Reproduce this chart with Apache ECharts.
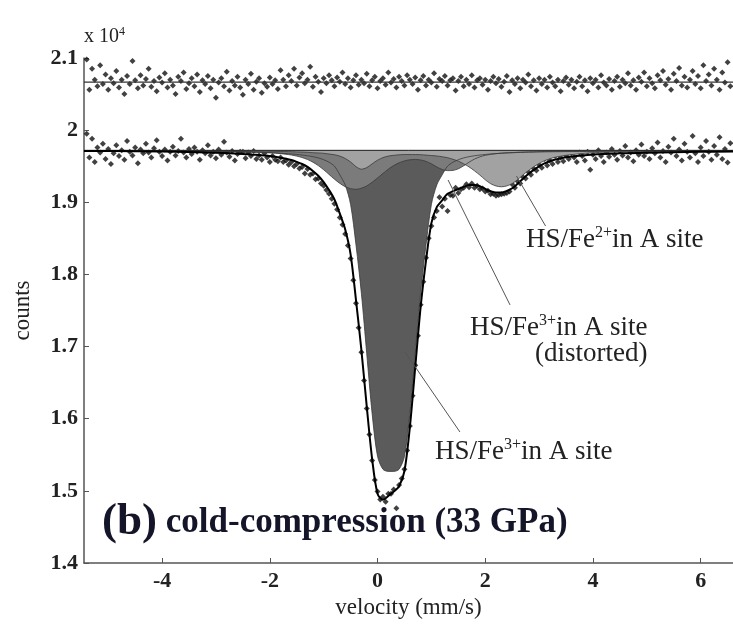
<!DOCTYPE html>
<html>
<head>
<meta charset="utf-8">
<script src="https://cdn.jsdelivr.net/npm/echarts@6/dist/echarts.min.js"></script>
<style>
html, body { margin: 0; padding: 0; background: #fff; }
#chart { width: 733px; height: 632px; }
</style>
</head>
<body>
<div id="chart"></div>
<script>
// measured channels (mm/s)
var velocity = [
  -5.40,-5.35,-5.30,-5.25,-5.20,-5.15,-5.10,-5.05,-5.00,-4.95,
  -4.90,-4.85,-4.80,-4.75,-4.70,-4.65,-4.60,-4.55,-4.50,-4.45,
  -4.40,-4.35,-4.30,-4.25,-4.20,-4.15,-4.10,-4.05,-4.00,-3.95,
  -3.90,-3.85,-3.80,-3.75,-3.70,-3.65,-3.60,-3.55,-3.50,-3.45,
  -3.40,-3.35,-3.30,-3.25,-3.20,-3.15,-3.10,-3.05,-3.00,-2.95,
  -2.90,-2.85,-2.80,-2.75,-2.70,-2.65,-2.60,-2.55,-2.50,-2.45,
  -2.40,-2.35,-2.30,-2.25,-2.20,-2.15,-2.10,-2.05,-2.00,-1.95,
  -1.90,-1.85,-1.80,-1.75,-1.70,-1.65,-1.60,-1.55,-1.50,-1.45,
  -1.40,-1.35,-1.30,-1.25,-1.20,-1.15,-1.10,-1.05,-1.00,-0.95,
  -0.90,-0.85,-0.80,-0.75,-0.70,-0.65,-0.60,-0.55,-0.50,-0.45,
  -0.40,-0.35,-0.30,-0.25,-0.20,-0.15,-0.10,-0.05,0.00,0.05,
  0.10,0.15,0.20,0.25,0.30,0.35,0.40,0.45,0.50,0.55,
  0.60,0.65,0.70,0.75,0.80,0.85,0.90,0.95,1.00,1.05,
  1.10,1.15,1.20,1.25,1.30,1.35,1.40,1.45,1.50,1.55,
  1.60,1.65,1.70,1.75,1.80,1.85,1.90,1.95,2.00,2.05,
  2.10,2.15,2.20,2.25,2.30,2.35,2.40,2.45,2.50,2.55,
  2.60,2.65,2.70,2.75,2.80,2.85,2.90,2.95,3.00,3.05,
  3.10,3.15,3.20,3.25,3.30,3.35,3.40,3.45,3.50,3.55,
  3.60,3.65,3.70,3.75,3.80,3.85,3.90,3.95,4.00,4.05,
  4.10,4.15,4.20,4.25,4.30,4.35,4.40,4.45,4.50,4.55,
  4.60,4.65,4.70,4.75,4.80,4.85,4.90,4.95,5.00,5.05,
  5.10,5.15,5.20,5.25,5.30,5.35,5.40,5.45,5.50,5.55,
  5.60,5.65,5.70,5.75,5.80,5.85,5.90,5.95,6.00,6.05,
  6.10,6.15,6.20,6.25,6.30,6.35,6.40,6.45,6.50,6.55
];

// upper spectrum (counts)
var countsTop = [
  20980,20560,20850,20700,20610,20900,20640,20770,20560,20720,
  20650,20820,20590,20700,20500,20750,20640,20960,20690,20580,
  20760,20620,20710,20850,20600,20680,20540,20730,20660,20790,
  20590,20700,20620,20500,20740,20680,20800,20570,20650,20720,
  20610,20770,20530,20690,20640,20750,20580,20700,20450,20660,
  20720,20610,20810,20550,20680,20620,20740,20590,20490,20700,
  20640,20780,20560,20670,20720,20520,20650,20600,20730,20640,
  20690,20570,20830,20700,20610,20760,20680,20850,20620,20730,
  20790,20650,20700,20880,20600,20740,20670,20530,20720,20650,
  20760,20690,20610,20730,20670,20800,20640,20720,20590,20690,
  20760,20630,20700,20650,20780,20610,20690,20740,20580,20680,
  20720,20630,20800,20660,20710,20590,20740,20680,20620,20760,
  20700,20640,20730,20560,20690,20750,20620,20700,20660,20790,
  20600,20710,20680,20750,20620,20690,20720,20550,20680,20740,
  20610,20700,20640,20760,20590,20690,20720,20630,20700,20560,
  20680,20740,20650,20710,20600,20670,20750,20530,20690,20640,
  20720,20580,20700,20660,20770,20610,20690,20550,20720,20640,
  20700,20590,20740,20660,20610,20700,20540,20680,20730,20630,
  20700,20580,20670,20740,20610,20690,20540,20720,20650,20700,
  20590,20760,20660,20620,20710,20560,20680,20740,20600,20700,
  20650,20790,20620,20690,20560,20730,20670,20800,20610,20720,
  20650,20580,20760,20690,20820,20630,20710,20560,20780,20680,
  20860,20620,20740,20590,20700,20820,20640,20750,20580,20900,
  20680,20770,20620,20850,20700,20560,20800,20660,20940,20610
];

// lower spectrum (counts)
var countsBottom = [
  19950,19620,19880,19560,19760,19690,19810,19600,19740,19530,
  19680,19790,19640,19720,19590,19850,19700,19650,19760,19540,
  19730,19680,19810,19690,19620,19750,19860,19700,19640,19730,
  19580,19700,19770,19650,19710,19880,19690,19620,19740,19670,
  19760,19700,19590,19720,19680,19790,19650,19700,19610,19730,
  19660,19840,19690,19630,19710,19580,19670,19700,19700,19610,
  19690,19640,19710,19600,19650,19590,19680,19620,19560,19640,
  19590,19570,19620,19560,19580,19520,19560,19500,19530,19470,
  19490,19400,19460,19380,19400,19320,19330,19260,19230,19170,
  19120,19050,18980,18900,18790,18690,18560,18400,18220,17920,
  17600,17260,16920,16530,16140,15780,15420,15150,14990,14880,
  14920,14850,14960,14960,15020,14760,15080,15170,15300,15560,
  15900,16320,16740,17150,17580,17900,18230,18500,18670,18790,
  18880,19070,18940,19050,18880,19100,19090,19200,19130,19180,
  19200,19250,19210,19260,19200,19230,19180,19190,19150,19160,
  19110,19120,19090,19100,19110,19120,19130,19150,19250,19200,
  19290,19260,19350,19330,19420,19380,19470,19440,19520,19480,
  19600,19510,19580,19530,19640,19560,19620,19570,19650,19600,
  19680,19620,19560,19690,19640,19580,19700,19450,19660,19600,
  19720,19640,19560,19690,19630,19740,19660,19590,19710,19650,
  19780,19620,19690,19570,19720,19660,19800,19640,19700,19600,
  19750,19680,19830,19620,19710,19560,19770,19690,19880,19640,
  19730,19580,19810,19700,19620,19920,19680,19560,19760,19640,
  19850,19700,19590,19780,19660,19900,19600,19740,19550,19820
];

// fitted curves for the lower spectrum
var fitVelocity = [
  -5.45,-4.5,-3.5,-3.0,
  -2.5,-2.4,-2.3,-2.2,-2.1,-2.0,-1.9,-1.8,-1.7,-1.6,
  -1.5,-1.4,-1.3,-1.2,-1.1,-1.0,-0.9,-0.8,-0.7,-0.6,
  -0.5,-0.4,-0.3,-0.2,-0.1,0.0,0.1,0.2,0.3,0.4,
  0.5,0.6,0.7,0.8,0.9,1.0,1.1,1.2,1.3,1.4,
  1.5,1.6,1.7,1.8,1.9,2.0,2.1,2.2,2.3,2.4,
  2.5,2.6,2.7,2.8,2.9,3.0,3.1,3.2,3.3,3.4,
  3.5,
  4.0,4.5,5.0,6.0,6.6
];
var fitTotal = [
  19712,19708,19698,19686,
  19671,19667,19660,19656,19649,19641,19632,19618,19604,19586,
  19561,19531,19491,19435,19368,19280,19170,19040,18842,18623,
  18278,17644,16954,16168,15441,14960,14878,14929,14990,15065,
  15276,15881,16715,17547,18191,18711,18932,19026,19117,19153,
  19184,19214,19238,19240,19222,19186,19152,19135,19135,19157,
  19195,19257,19327,19392,19449,19498,19539,19568,19592,19608,
  19623,
  19662,19679,19688,19699,19704
];
var fitMain = [
  19712,19710,19706,19702,
  19698,19696,19694,19692,19690,19687,19684,19680,19675,19670,
  19663,19655,19645,19632,19615,19590,19555,19500,19380,19240,
  18970,18410,17740,16900,16070,15480,15300,15270,15270,15300,
  15480,16070,16900,17740,18410,18970,19240,19380,19500,19555,
  19590,19615,19632,19645,19655,19663,19670,19675,19680,19684,
  19687,19690,19692,19694,19696,19698,19699,19700,19701,19702,
  19703,
  19705,19708,19711,19713,19714
];
var fitDistorted = [
  19715,19713,19710,19707,
  19702,19701,19697,19695,19691,19687,19682,19674,19666,19655,
  19640,19620,19593,19556,19509,19451,19386,19321,19262,19216,
  19189,19180,19195,19227,19278,19337,19399,19459,19509,19547,
  19574,19589,19594,19587,19567,19533,19490,19455,19439,19442,
  19464,19506,19556,19599,19630,19651,19664,19674,19680,19686,
  19689,19693,19696,19699,19700,19702,19704,19705,19706,19707,
  19708,
  19710,19712,19714,19716,19717
];
var fitFe2 = [
  19716,19715,19714,19713,
  19711,19710,19709,19709,19708,19707,19706,19704,19703,19701,
  19698,19696,19693,19687,19684,19679,19669,19659,19640,19607,
  19559,19494,19459,19481,19533,19583,19619,19640,19651,19658,
  19662,19662,19661,19660,19654,19648,19642,19631,19618,19596,
  19570,19533,19490,19436,19377,19312,19258,19226,19215,19227,
  19259,19314,19379,19439,19493,19538,19576,19603,19625,19639,
  19652,
  19687,19697,19704,19710,19713
];

var baseBottom = 19720;
var baseTop = 20665;
var xMin = -5.45, xMax = 6.6;
var xTicks = [-4, -2, 0, 2, 4, 6];

function pairs(xs, ys) {
  return xs.map(function (x, i) { return [x, ys[i]]; });
}

var serif = '"Liberation Serif", "DejaVu Serif", serif';
var chart = echarts.init(document.getElementById('chart'));

function areaSeries(name, ys, color) {
  return {
    name: name,
    type: 'line',
    data: pairs(fitVelocity, ys),
    smooth: 0.3,
    symbol: 'none',
    lineStyle: { color: '#3a3a3a', width: 0.8 },
    areaStyle: { color: color, opacity: 1, origin: baseBottom }
  };
}

// superscript text helper for labels
function supText(left, top, base, sup, rest, size) {
  return {
    type: 'text', left: left, top: top,
    style: {
      text: base + '{s|' + sup + '}' + rest, fontFamily: serif, fontSize: size, fill: '#222',
      rich: { s: { fontFamily: serif, fontSize: Math.round(size * 0.6), padding: [0, 0, Math.round(size * 0.5), 0] } }
    }
  };
}

var option = {
  animation: false,
  backgroundColor: '#fff',
  grid: { left: 84, right: 0, top: 58, bottom: 69 },
  xAxis: {
    type: 'value',
    min: xMin,
    max: xMax,
    name: 'velocity (mm/s)',
    nameLocation: 'middle',
    nameGap: 30,
    nameTextStyle: { fontFamily: serif, fontSize: 23, color: '#222' },
    axisLine: { onZero: false, lineStyle: { color: '#555', width: 1.5 } },
    axisTick: { inside: true, length: 5, customValues: xTicks, lineStyle: { color: '#555' } },
    axisLabel: { customValues: xTicks, fontFamily: serif, fontSize: 22, fontWeight: 'bold', color: '#222', margin: 7 },
    splitLine: { show: false }
  },
  yAxis: {
    type: 'value',
    min: 14000,
    max: 21000,
    interval: 1000,
    name: 'counts',
    nameLocation: 'middle',
    nameGap: 50,
    nameTextStyle: { fontFamily: serif, fontSize: 23, color: '#222' },
    axisLine: { show: true, onZero: false, lineStyle: { color: '#555', width: 1.5 } },
    axisTick: { show: true, inside: true, length: 5, lineStyle: { color: '#555' } },
    axisLabel: {
      fontFamily: serif, fontSize: 22, fontWeight: 'bold', color: '#222', margin: 6,
      formatter: function (v) { return String(v / 10000); }
    },
    splitLine: { show: false }
  },
  series: [
    areaSeries('HS/Fe3+ in A site', fitMain, '#5b5b5b'),
    areaSeries('HS/Fe3+ in A site (distorted)', fitDistorted, '#7b7b7b'),
    areaSeries('HS/Fe2+ in A site', fitFe2, '#a2a2a2'),
    {
      name: 'baseline',
      type: 'line',
      data: [[xMin, baseBottom], [xMax, baseBottom]],
      symbol: 'none',
      lineStyle: { color: '#222', width: 1 },
      markLine: {
        silent: true,
        symbol: 'none',
        lineStyle: { color: '#555', width: 1, type: 'solid' },
        label: { show: false },
        data: [
          [{ coord: [3.12, 18671] }, { coord: [2.58, 19364] }],
          [{ coord: [2.46, 17577] }, { coord: [1.31, 19309] }],
          [{ coord: [1.53, 15816] }, { coord: [0.51, 16925] }]
        ]
      }
    },
    {
      name: 'fit',
      type: 'line',
      data: pairs(fitVelocity, fitTotal),
      smooth: 0.3,
      symbol: 'none',
      lineStyle: { color: '#000', width: 2 }
    },
    {
      name: 'data',
      type: 'scatter',
      data: pairs(velocity, countsBottom),
      symbol: 'diamond',
      symbolSize: 6,
      itemStyle: { color: '#111' }
    },
    {
      name: 'data top',
      type: 'scatter',
      data: pairs(velocity, countsTop),
      symbol: 'diamond',
      symbolSize: 6,
      itemStyle: { color: '#111' }
    },
    {
      name: 'fit top',
      type: 'line',
      data: [[xMin, baseTop], [xMax, baseTop]],
      symbol: 'none',
      lineStyle: { color: '#333', width: 1.2 }
    }
  ],
  graphic: [
    supText(84, 26, 'x 10', '4', '', 20),
    supText(526, 225, 'HS/Fe', '2+', 'in A site', 27),
    supText(470, 313, 'HS/Fe', '3+', 'in A site', 27),
    {
      type: 'text', left: 535, top: 340,
      style: { text: '(distorted)', fontFamily: serif, fontSize: 27, fill: '#222' }
    },
    supText(435, 437, 'HS/Fe', '3+', 'in A site', 27),
    {
      type: 'text', left: 102, top: 500,
      style: {
        text: '{b|(b)} cold-compression (33 GPa)', fontFamily: serif, fontSize: 35,
        fontWeight: 'bold', fill: '#15152a',
        rich: { b: { fontFamily: serif, fontSize: 45, fontWeight: 'bold' } }
      }
    }
  ]
};

chart.setOption(option);
</script>
</body>
</html>
